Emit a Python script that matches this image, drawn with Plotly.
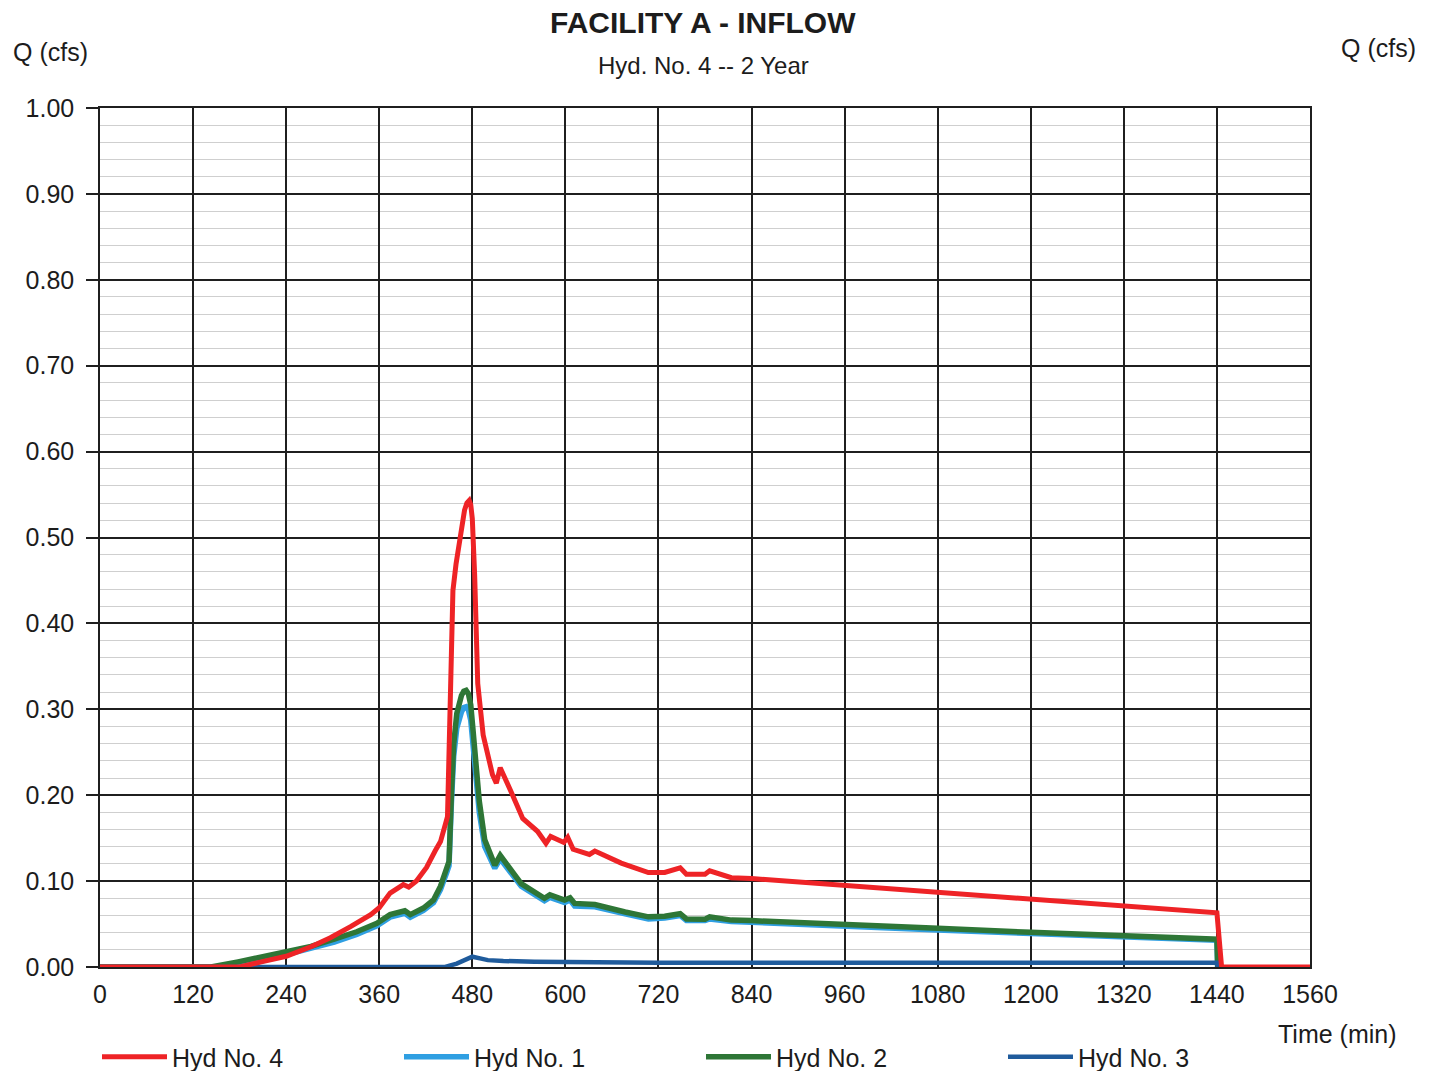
import plotly.graph_objects as go

# ---------------- data ----------------
t_hyd4 = [0, 180, 208, 240, 272, 297, 323, 349, 360, 374, 391, 398, 408, 421, 432, 439, 448, 451,
          455, 459, 464, 470, 473, 476, 478, 480, 483, 487, 494, 506, 511, 516, 530, 545, 564, 575,
          581, 598, 603, 610, 631, 638, 672, 707, 728, 748, 756, 780, 786, 814, 840, 960, 1080,
          1200, 1320, 1440, 1446, 1560]
q_hyd4 = [0, 0, 0.006, 0.0125, 0.0235, 0.034, 0.047, 0.061, 0.069, 0.086, 0.096, 0.093, 0.100,
          0.116, 0.135, 0.146, 0.175, 0.29, 0.438, 0.469, 0.50, 0.532, 0.540, 0.543, 0.538, 0.522,
          0.457, 0.33, 0.27, 0.224, 0.214, 0.232, 0.204, 0.173, 0.158, 0.144, 0.152, 0.145, 0.151,
          0.137, 0.131, 0.135, 0.121, 0.110, 0.110, 0.1155, 0.108, 0.108, 0.112, 0.104, 0.103,
          0.095, 0.0873, 0.0796, 0.0717, 0.063, 0, 0]

t_hyd2 = [0, 143, 178, 208, 240, 272, 302, 331, 357, 374, 393, 400, 417, 430, 439, 447, 450, 453,
          456, 460, 463, 466, 469, 472, 475, 478, 481, 484, 489, 496, 509, 516, 543, 573, 580, 599,
          606, 612, 638, 677, 707, 728, 748, 756, 780, 786, 814, 840, 960, 1080, 1200, 1320, 1440,
          1441]
q_hyd2 = [0, 0, 0.006, 0.012, 0.018, 0.024, 0.0325, 0.041, 0.051, 0.061, 0.0655, 0.061, 0.0686,
          0.078, 0.094, 0.115, 0.123, 0.20, 0.259, 0.295, 0.309, 0.316, 0.321, 0.322, 0.318, 0.305,
          0.275, 0.24, 0.193, 0.148, 0.1186, 0.130, 0.097, 0.080, 0.084, 0.078, 0.0806, 0.074,
          0.0728, 0.064, 0.0584, 0.059, 0.062, 0.056, 0.0557, 0.0584, 0.0546, 0.054, 0.0488, 0.045,
          0.0404, 0.036, 0.0323, 0]

t_hyd1 = [0, 175, 208, 240, 272, 302, 331, 357, 374, 393, 400, 417, 430, 439, 447, 450, 453, 456,
          460, 463, 466, 469, 472, 475, 478, 481, 484, 489, 496, 509, 516, 543, 573, 580, 599, 606,
          612, 638, 677, 707, 728, 748, 756, 780, 786, 814, 840, 960, 1080, 1200, 1320, 1440, 1441]
q_hyd1 = [0, 0, 0.007, 0.014, 0.021, 0.029, 0.038, 0.048, 0.058, 0.0625, 0.058, 0.066, 0.075,
          0.09, 0.11, 0.118, 0.19, 0.245, 0.278, 0.29, 0.297, 0.302, 0.303, 0.299, 0.287, 0.258,
          0.225, 0.18, 0.14, 0.115, 0.126, 0.094, 0.077, 0.081, 0.075, 0.078, 0.071, 0.070, 0.062,
          0.056, 0.057, 0.060, 0.054, 0.054, 0.056, 0.053, 0.052, 0.047, 0.043, 0.039, 0.035,
          0.031, 0]

t_hyd3 = [0, 445, 460, 470, 480, 490, 500, 520, 560, 720, 960, 1200, 1440, 1441]
q_hyd3 = [0, 0, 0.004, 0.008, 0.012, 0.010, 0.008, 0.007, 0.006, 0.005, 0.005, 0.005, 0.005, 0]

x_ticks = [0, 120, 240, 360, 480, 600, 720, 840, 960, 1080, 1200, 1320, 1440, 1560]

# ---------------- styling ----------------
FONT = "Liberation Sans, Arial, sans-serif"
INK = "#1c1c1c"
GRID = "#1f1f1f"

W, H = 1434, 1071
L, R, T, B = 100, 124, 108, 104
PW, PH = W - L - R, H - T - B


def px_x(px):
    return (px - L) / PW


def px_y(py):
    return (H - B - py) / PH


fig = go.Figure()

series = [
    ("Hyd No. 1", t_hyd1, q_hyd1, "#2f9fe2", 5.5, 2),
    ("Hyd No. 2", t_hyd2, q_hyd2, "#2e7636", 5.5, 3),
    ("Hyd No. 3", t_hyd3, q_hyd3, "#1f5b9c", 4.5, 4),
    ("Hyd No. 4", t_hyd4, q_hyd4, "#ee2326", 5, 1),
]
for name, tx, qy, col, w, rank in series:
    fig.add_trace(go.Scatter(x=tx, y=qy, mode="lines", name=name,
                             line=dict(color=col, width=w), legendrank=rank))

fig.update_layout(
    width=W, height=H,
    margin=dict(l=L, r=R, t=T, b=B, autoexpand=False),
    paper_bgcolor="white", plot_bgcolor="white",
    font=dict(family=FONT, size=24, color=INK),
    showlegend=True,
    legend=dict(orientation="h", x=px_x(97), xanchor="left", y=px_y(1057), yanchor="middle",
                entrywidth=222, entrywidthmode="pixels", font=dict(size=25, color=INK),
                bgcolor="rgba(0,0,0,0)", borderwidth=0, itemwidth=65),
    xaxis=dict(range=[0, 1560], tickmode="array", tickvals=x_ticks,
               showgrid=True, gridcolor=GRID, gridwidth=1.5, zeroline=False,
               showline=True, linecolor=GRID, linewidth=1.5, mirror=True,
               ticks="", ticklabelstandoff=4, tickfont=dict(size=25, color=INK)),
    yaxis=dict(range=[0, 1], dtick=0.1, tick0=0, tickformat=".2f",
               showgrid=True, gridcolor=GRID, gridwidth=1.5, zeroline=False,
               showline=True, linecolor=GRID, linewidth=1.5, mirror=True,
               ticks="outside", ticklen=12, tickwidth=1.5, tickcolor=GRID,
               ticklabelstandoff=7, tickfont=dict(size=25, color=INK),
               minor=dict(dtick=0.02, tick0=0, showgrid=True, gridcolor="#cfcfcf", gridwidth=1,
                          ticks="")),
    yaxis2=dict(range=[0, 1], dtick=0.1, tick0=0, tickformat=".2f", overlaying="y",
                side="right", anchor="x", showgrid=False, zeroline=False, showline=False,
                ticks="outside", ticklen=14, tickwidth=1.5, tickcolor=GRID,
                ticklabelstandoff=11, tickfont=dict(size=25, color=INK)),
    annotations=[
        dict(text="<b>FACILITY A - INFLOW</b>", x=px_x(703), y=px_y(22), xref="paper",
             yref="paper", showarrow=False, xanchor="center", yanchor="middle",
             font=dict(size=30, color=INK)),
        dict(text="Hyd. No. 4 -- 2 Year", x=px_x(703), y=px_y(65), xref="paper", yref="paper",
             showarrow=False, xanchor="center", yanchor="middle", font=dict(size=24, color=INK)),
        dict(text="Q (cfs)", x=px_x(50), y=px_y(52), xref="paper", yref="paper",
             showarrow=False, xanchor="center", yanchor="middle", font=dict(size=25, color=INK)),
        dict(text="Q (cfs)", x=px_x(1378), y=px_y(48), xref="paper", yref="paper",
             showarrow=False, xanchor="center", yanchor="middle", font=dict(size=25, color=INK)),
        dict(text="Time (min)", x=px_x(1337), y=px_y(1034), xref="paper", yref="paper",
             showarrow=False, xanchor="center", yanchor="middle", font=dict(size=25, color=INK)),
    ],
)

fig.write_html("out.html", config={"displayModeBar": False},
               post_script="document.body.style.margin='0';")
